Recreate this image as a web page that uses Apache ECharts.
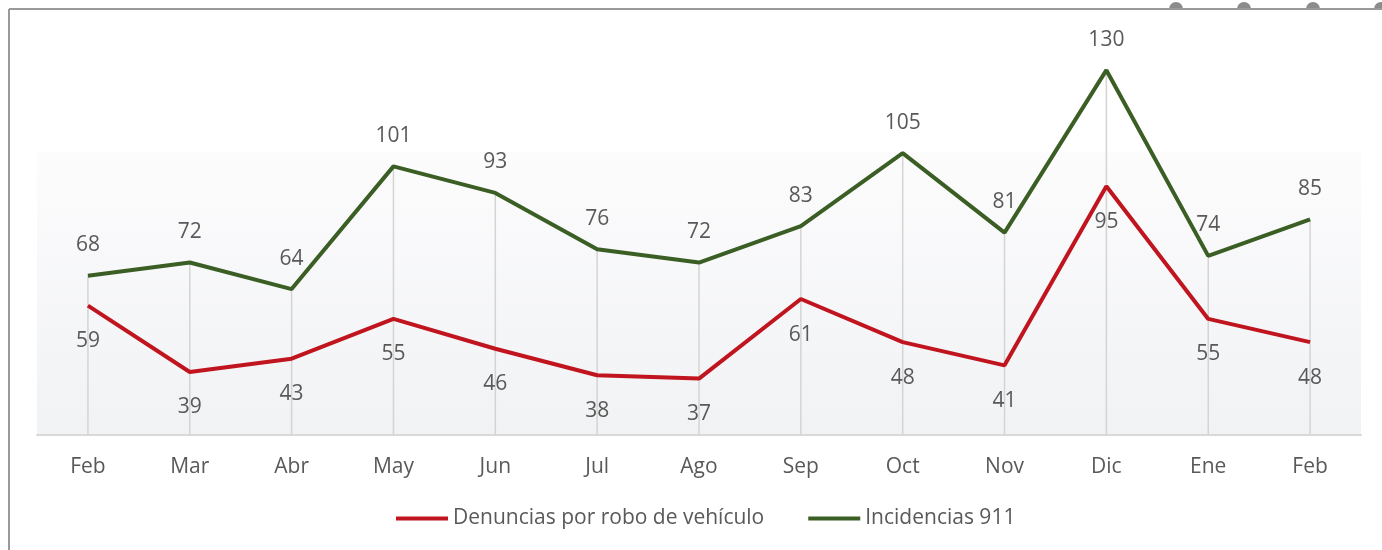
<!DOCTYPE html>
<html>
<head>
<meta charset="utf-8">
<script src="https://cdn.jsdelivr.net/npm/echarts@6/dist/echarts.min.js"></script>
<style>
  html, body { margin: 0; padding: 0; background: #fff; }
  #main { width: 1382px; height: 550px; }
</style>
</head>
<body>
<div id="main"></div>
<script>
// datos del grafico
var meses = ['Feb', 'Mar', 'Abr', 'May', 'Jun', 'Jul', 'Ago', 'Sep', 'Oct', 'Nov', 'Dic', 'Ene', 'Feb'];
var denuncias = [59, 39, 43, 55, 46, 38, 37, 61, 48, 41, 95, 55, 48];
var incidencias = [68, 72, 64, 101, 93, 76, 72, 83, 105, 81, 130, 74, 85];

var rojo = '#C0151F';
var verde = '#3B5E24';
var gris = '#595959';
var fuente = '"Open Sans", "Noto Sans", sans-serif';

var chart = echarts.init(document.getElementById('main'));

// medio circulo (asa de seleccion) sobre el borde superior
function asa(cx) {
  return {
    type: 'sector', z: 9,
    shape: { cx: cx, cy: 9, r0: 0, r: 7, startAngle: Math.PI, endAngle: Math.PI * 2 },
    style: { fill: '#8c8c8c' }
  };
}

var option = {
  animation: false,
  backgroundColor: '#fff',
  textStyle: { fontFamily: fuente },
  graphic: [
    // marco del area del grafico
    { type: 'line', shape: { x1: 9, y1: 9, x2: 1382, y2: 9 }, style: { stroke: '#9a9a9a', lineWidth: 2 }, z: 10 },
    { type: 'line', shape: { x1: 9, y1: 9, x2: 9, y2: 550 }, style: { stroke: '#9a9a9a', lineWidth: 2 }, z: 10 },
    asa(1176), asa(1244), asa(1313), asa(1381),
    // fondo degradado
    {
      type: 'rect', z: -1,
      shape: { x: 37, y: 152, width: 1324, height: 283 },
      style: {
        fill: new echarts.graphic.LinearGradient(0, 0, 0, 1, [
          { offset: 0, color: '#fcfcfd' },
          { offset: 1, color: '#f1f2f4' }
        ])
      }
    }
  ],
  grid: { left: 37, right: 21, top: 37, bottom: 115 },
  xAxis: {
    type: 'category',
    data: meses,
    boundaryGap: true,
    axisLine: { lineStyle: { color: '#d9d9d9', width: 2 } },
    axisTick: { show: false },
    axisLabel: { color: gris, fontSize: 21, margin: 22, fontFamily: fuente }
  },
  yAxis: {
    type: 'value',
    min: 20,
    max: 140,
    show: false,
    splitLine: { show: false }
  },
  legend: {
    top: 503,
    left: 391,
    itemWidth: 52,
    itemHeight: 4,
    itemGap: 44,
    icon: 'rect',
    textStyle: { color: gris, fontSize: 21, fontFamily: fuente },
    data: ['Denuncias por robo de vehículo', 'Incidencias 911']
  },
  series: [
    {
      // lineas de caida hasta el eje
      name: 'caida',
      type: 'bar',
      data: incidencias,
      barWidth: 1.5,
      silent: true,
      itemStyle: { color: '#d4d4d4' },
      z: 1
    },
    {
      name: 'Denuncias por robo de vehículo',
      type: 'line',
      data: denuncias,
      symbol: 'circle',
      symbolSize: 0,
      lineStyle: { color: rojo, width: 4 },
      itemStyle: { color: rojo },
      label: {
        show: true,
        position: 'bottom',
        distance: 25,
        color: gris,
        fontSize: 21,
        fontFamily: fuente
      },
      z: 3
    },
    {
      name: 'Incidencias 911',
      type: 'line',
      data: incidencias,
      symbol: 'circle',
      symbolSize: 0,
      lineStyle: { color: verde, width: 4 },
      itemStyle: { color: verde },
      label: {
        show: true,
        position: 'top',
        distance: 20,
        color: gris,
        fontSize: 21,
        fontFamily: fuente
      },
      z: 3
    }
  ]
};

chart.setOption(option);
</script>
</body>
</html>
